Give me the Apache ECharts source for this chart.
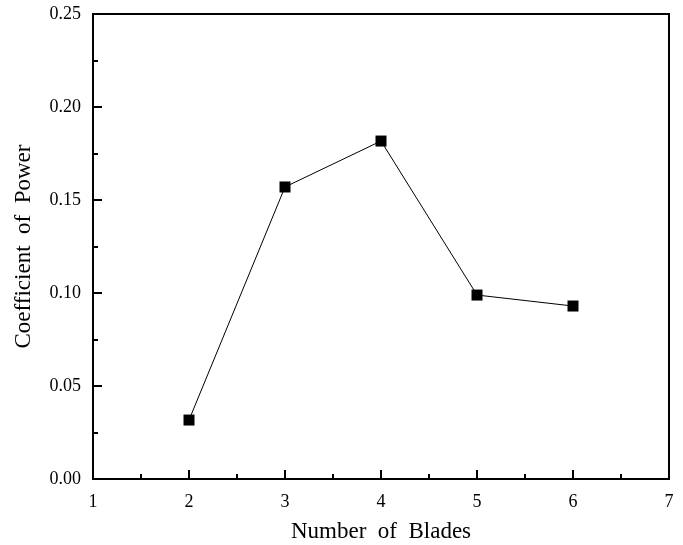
<!DOCTYPE html>
<html>
<head>
<meta charset="utf-8">
<script src="https://cdn.jsdelivr.net/npm/echarts@6/dist/echarts.min.js"></script>
<style>
  html, body { margin: 0; padding: 0; background: #fff; }
  #chart { width: 683px; height: 545px; }
</style>
</head>
<body>
<div id="chart"></div>
<script>
// Blade count vs. power coefficient
const bladeCounts = [2, 3, 4, 5, 6];
const powerCoefficients = [0.0317, 0.157, 0.1817, 0.0989, 0.093];

const xTicks = { min: 1, max: 7, interval: 1 };
const yTicks = { min: 0, max: 0.25, interval: 0.05 };

const fontFamily = '"Liberation Serif", "DejaVu Serif", serif';

const chart = echarts.init(document.getElementById('chart'), null, { renderer: 'canvas' });

const axisCommon = {
  axisLine: { show: true, onZero: false, lineStyle: { color: '#000', width: 2 } },
  axisTick: { show: true, inside: true, length: 9, lineStyle: { color: '#000', width: 2 } },
  minorTick: { show: true, splitNumber: 2, length: 5, lineStyle: { color: '#000', width: 2 } },
  splitLine: { show: false },
  axisLabel: { color: '#000', fontFamily: fontFamily, fontSize: 18 },
  nameTextStyle: { color: '#000', fontFamily: fontFamily, fontSize: 23 }
};

chart.setOption({
  animation: false,
  backgroundColor: '#fff',
  grid: {
    left: 93, top: 14, right: 14, bottom: 66,
    containLabel: false, outerBoundsMode: 'none',
    show: true, borderColor: '#000', borderWidth: 2
  },
  xAxis: Object.assign({}, axisCommon, {
    type: 'value',
    min: xTicks.min, max: xTicks.max, interval: xTicks.interval,
    name: 'Number  of  Blades',
    nameLocation: 'middle',
    nameGap: 41,
    axisLabel: Object.assign({}, axisCommon.axisLabel, { margin: 14 })
  }),
  yAxis: Object.assign({}, axisCommon, {
    type: 'value',
    min: yTicks.min, max: yTicks.max, interval: yTicks.interval,
    name: 'Coefficient  of  Power',
    nameLocation: 'middle',
    nameGap: 58,
    axisLabel: Object.assign({}, axisCommon.axisLabel, {
      margin: 12,
      formatter: v => v.toFixed(2)
    })
  }),
  series: [{
    type: 'line',
    data: bladeCounts.map((b, i) => [b, powerCoefficients[i]]),
    symbol: 'rect',
    symbolSize: 11,
    itemStyle: { color: '#000' },
    lineStyle: { color: '#000', width: 1 }
  }]
});
</script>
</body>
</html>
